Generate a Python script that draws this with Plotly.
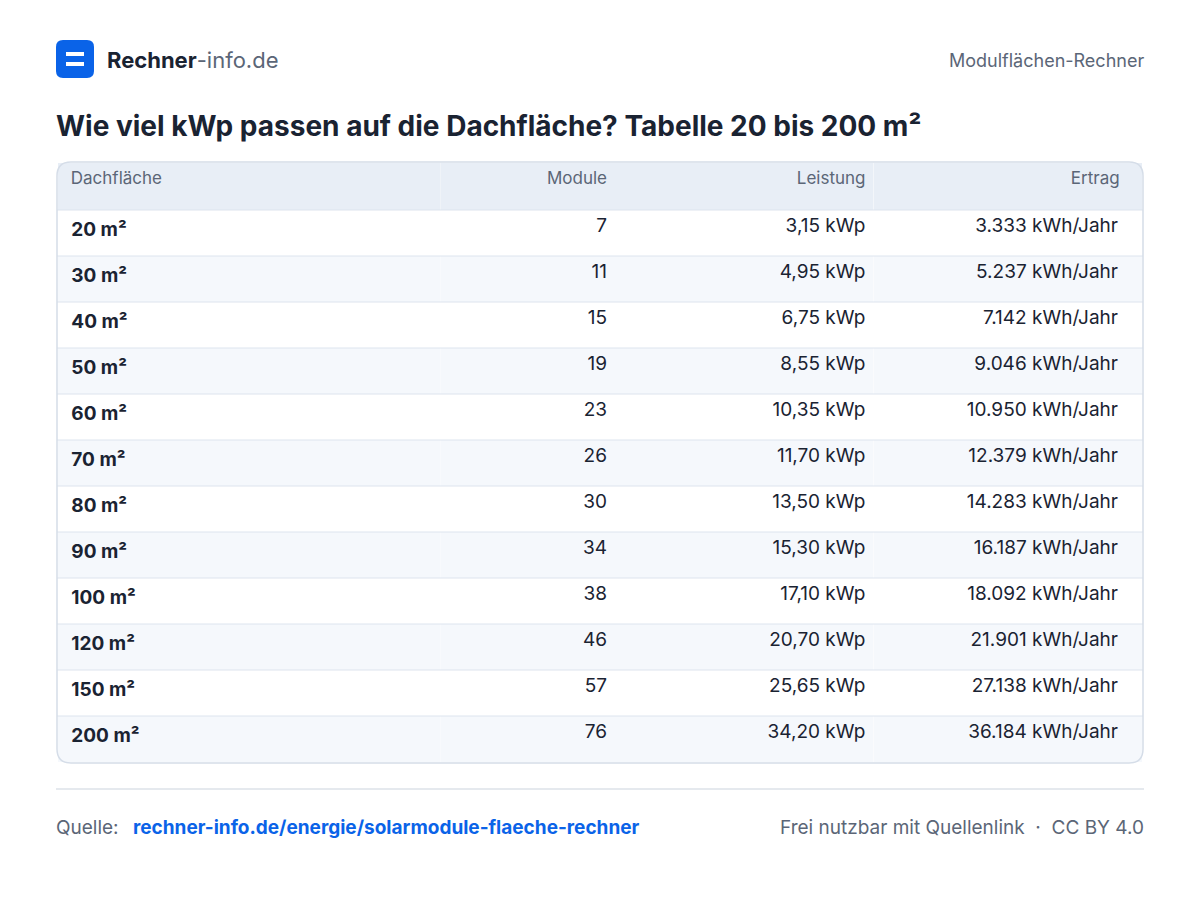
import plotly.graph_objects as go

W, H = 1200, 908

flaeche = ["20 m²", "30 m²", "40 m²", "50 m²", "60 m²", "70 m²", "80 m²", "90 m²",
           "100 m²", "120 m²", "150 m²", "200 m²"]
module = [7, 11, 15, 19, 23, 26, 30, 34, 38, 46, 57, 76]
leistung = ["3,15", "4,95", "6,75", "8,55", "10,35", "11,70", "13,50", "15,30",
            "17,10", "20,70", "25,65", "34,20"]
ertrag = ["3.333", "5.237", "7.142", "9.046", "10.950", "12.379", "14.283", "16.187",
          "18.092", "21.901", "27.138", "36.184"]
headers = ["Dachfläche", "Module", "Leistung", "Ertrag"]

OFF = 8  # page offset of the plot in the browser


def px(x):
    return (x - OFF) / W


def py(y):
    return 1 - (y - OFF) / H


n = len(flaeche)
fills = ["#ffffff" if i % 2 == 0 else "#f5f8fc" for i in range(n)]
font = "Inter, Noto Sans, sans-serif"
pad = "\u00a0\u00a0\u00a0"

fig = go.Figure(go.Table(
    domain=dict(x=[px(58), px(1142)], y=[py(763), py(163)]),
    columnwidth=[383, 175, 259, 269],
    header=dict(
        values=["\u00a0" + headers[0], headers[1], headers[2], headers[3] + pad],
        fill_color="#e8eef6",
        line=dict(width=0),
        align=["left", "right", "right", "right"],
        font=dict(family=font, size=17, color="#5b6677"),
        height=47,
    ),
    cells=dict(
        values=[["\u00a0<b>%s</b>" % f for f in flaeche], module,
                [l + " kWp" for l in leistung], [e + " kWh/Jahr" + pad for e in ertrag]],
        fill_color=[fills] * 4,
        line=dict(width=0),
        align=["left", "right", "right", "right"],
        font=dict(family=font, size=19, color="#1a2332"),
        height=46,
    ),
))

shapes = []
# row separators
for i in range(n):
    y = 210 + 46 * i
    shapes.append(dict(type="line", xref="paper", yref="paper", x0=px(57), x1=px(1143),
                       y0=py(y), y1=py(y), line=dict(color="#dde4ee", width=1)))


def rounded(x0, x1, y0, y1, r):
    return (f"M {px(x0+r)},{py(y0)} L {px(x1-r)},{py(y0)} Q {px(x1)},{py(y0)} {px(x1)},{py(y0+r)} "
            f"L {px(x1)},{py(y1-r)} Q {px(x1)},{py(y1)} {px(x1-r)},{py(y1)} "
            f"L {px(x0+r)},{py(y1)} Q {px(x0)},{py(y1)} {px(x0)},{py(y1-r)} "
            f"L {px(x0)},{py(y0+r)} Q {px(x0)},{py(y0)} {px(x0+r)},{py(y0)} Z")


shapes.append(dict(type="path", xref="paper", yref="paper", path=rounded(57, 1143, 162, 763, 14),
                   line=dict(color="#d5dde8", width=1.5)))
# logo
shapes.append(dict(type="path", xref="paper", yref="paper", path=rounded(56, 94, 40, 78, 7),
                   fillcolor="#0a63e8", line=dict(width=0)))
for yy in (54, 64):
    shapes.append(dict(type="line", xref="paper", yref="paper", x0=px(66), x1=px(84),
                       y0=py(yy), y1=py(yy), line=dict(color="white", width=4)))
# footer line
shapes.append(dict(type="line", xref="paper", yref="paper", x0=px(56), x1=px(1144),
                   y0=py(789), y1=py(789), line=dict(color="#dde2e8", width=1.5)))


def ann(x, y, text, size, color, xanchor="left"):
    return dict(x=px(x), y=py(y), xref="paper", yref="paper", text=text, showarrow=False,
                xanchor=xanchor, yanchor="middle", font=dict(family=font, size=size, color=color))


annotations = [
    ann(105, 60, "<b>Rechner</b><span style='color:#5b6677'>-info.de</span>", 22, "#1a2332"),
    ann(1146, 60, "Modulflächen-Rechner", 18, "#5b6677", "right"),
    ann(54, 126, "<b>Wie viel kWp passen auf die Dachfläche? Tabelle 20 bis 200 m²</b>", 28, "#1a2332"),
    ann(54, 827, "Quelle:", 19, "#5b6677"),
    ann(131, 827, "<b>rechner-info.de/energie/solarmodule-flaeche-rechner</b>", 19, "#0a63e8"),
    ann(1146, 827, "Frei nutzbar mit Quellenlink  ·  CC BY 4.0", 19, "#5b6677", "right"),
]

fig.update_layout(
    width=W, height=H,
    margin=dict(l=0, r=0, t=0, b=0),
    paper_bgcolor="white",
    plot_bgcolor="white",
    shapes=shapes,
    annotations=annotations,
)

fig.write_html("out.html")
